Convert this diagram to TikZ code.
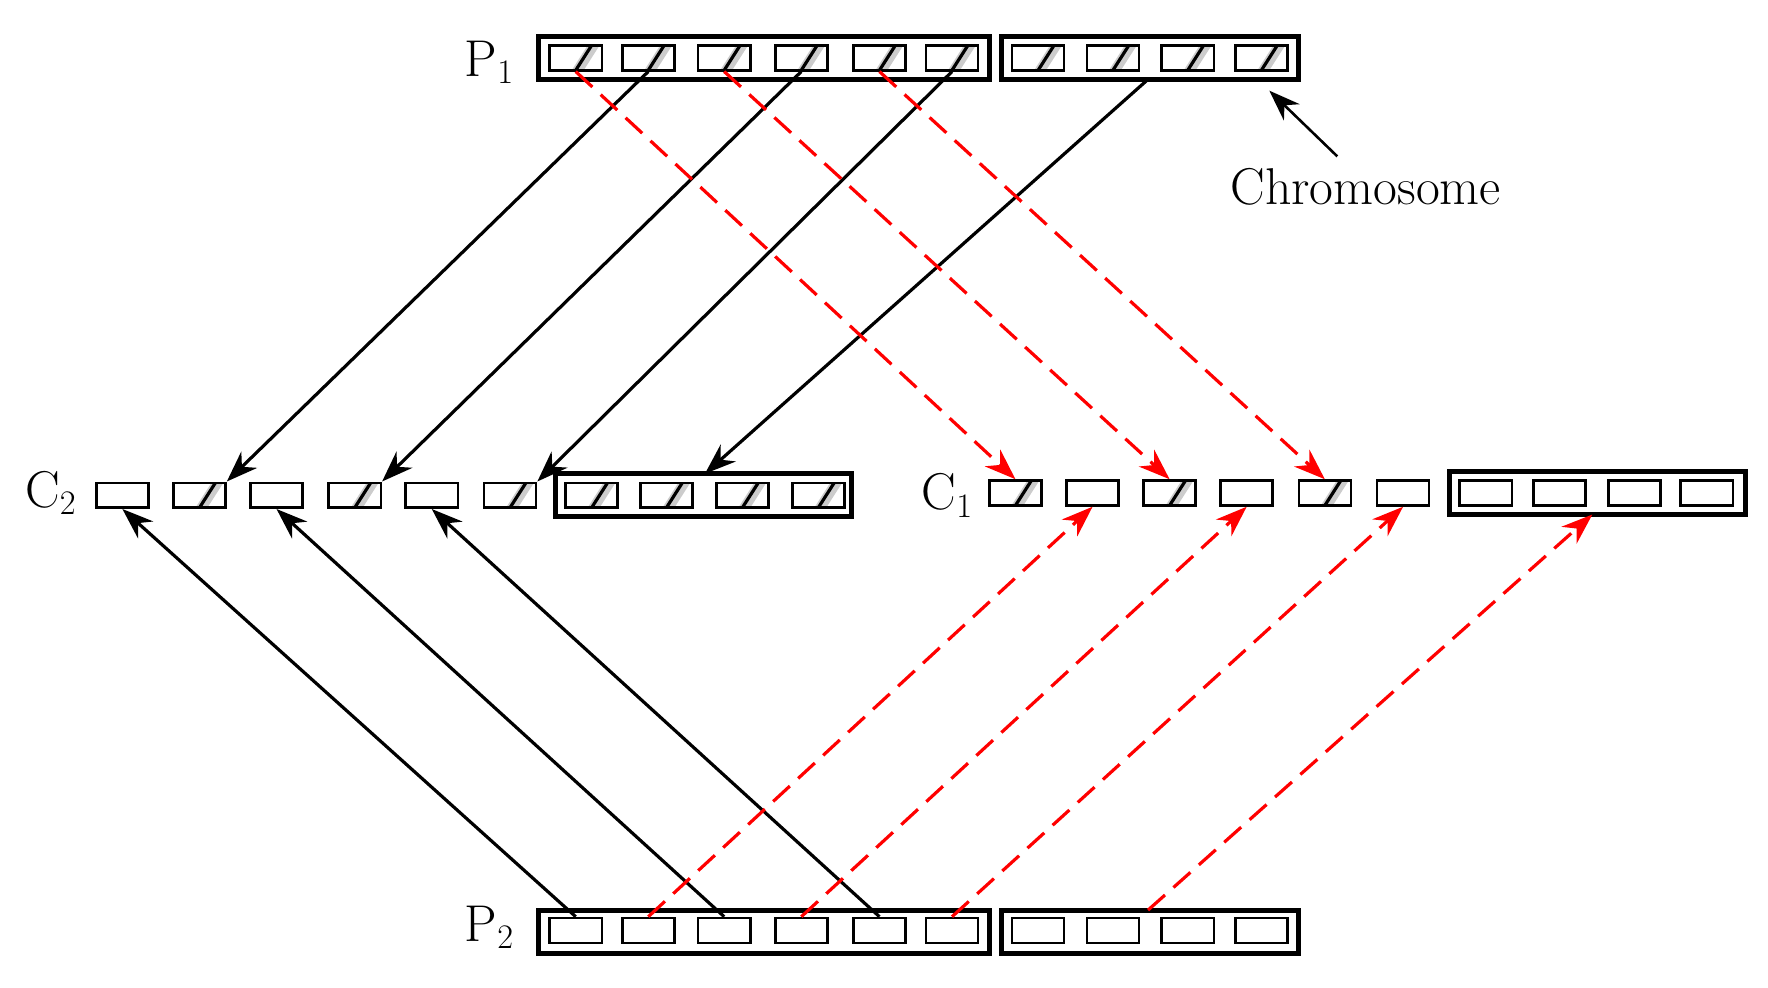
\documentclass[tikz,border=0pt]{standalone}
\usetikzlibrary{arrows.meta}
\tikzset{
  gene/.style={draw, line width=1.3pt, minimum width=0.92cm, minimum height=0.44cm, inner sep=0pt},
  hgene/.style={gene, path picture={
      \fill[gray!40] ([xshift=-2pt]path picture bounding box.south) -- ([xshift=6pt]path picture bounding box.north) -- ([xshift=12pt]path picture bounding box.north) -- ([xshift=4pt]path picture bounding box.south) -- cycle;
      \draw[line width=1.6pt] (path picture bounding box.south) -- ([xshift=8pt]path picture bounding box.north);}},
  chrom/.style={draw, line width=2.5pt},
  lbl/.style={font=\fontsize{26}{30}\selectfont},
  cross/.style={line width=1.6pt, -{Stealth[length=0.55cm,width=0.4cm]}},
  swap/.style={cross, red, dash pattern=on 0.4cm off 0.2cm}
}
\begin{document}
\begin{tikzpicture}[x=0.02cm,y=-0.02cm]
\useasboundingbox (0,0) rectangle (1560,871);

% parents
\draw[chrom] (475,32) rectangle (873,70);
\draw[chrom] (884,32) rectangle (1146,70);
\draw[chrom] (475,803) rectangle (873,841);
\draw[chrom] (884,803) rectangle (1146,841);
\coordinate (p1r) at (1013,70);
\coordinate (p2r) at (1013,803);
\node[lbl] at (432,55) {P$_1$};
\node[lbl] at (432,818) {P$_2$};
\foreach \x [count=\i] in {508,572,639,707,776,840,916,982,1048,1113}
  \node[hgene] (a\i) at (\x,51) {};
\foreach \x [count=\i] in {508,572,639,707,776,840,916,982,1048,1113}
  \node[gene] (b\i) at (\x,821) {};

% children
\node[lbl] at (45,435) {C$_2$};
\node[lbl] at (836,437) {C$_1$};
\draw[chrom] (490,418) rectangle (751,456);
\draw[chrom] (1279,416) rectangle (1540,454);
\coordinate (c2r) at (622,418);
\coordinate (c1r) at (1405,454);
\foreach \x [count=\i] in {108,176,244,313,381,450}
  \node[gene] (u\i) at (\x,437) {};
\foreach \i in {2,4,6}
  \node[hgene] at (u\i) {};
\foreach \x in {522,588,655,722}
  \node[hgene] at (\x,437) {};
\foreach \x [count=\i] in {896,964,1032,1100,1169,1238}
  \node[gene] (v\i) at (\x,435) {};
\foreach \i in {1,3,5}
  \node[hgene] at (v\i) {};
\foreach \x in {1311,1376,1442,1506}
  \node[gene] at (\x,435) {};

% chromosome label
\node[lbl] (chr) at (1205,165) {Chromosome};
\coordinate (chrtip) at (1120,80);
\draw[line width=1.3pt, -{Stealth[length=0.55cm,width=0.4cm]}] (1180,138) -- (chrtip);

% P1 to children
\draw[cross] (a2.south) -- (u2.north east);
\draw[cross] (a4.south) -- (u4.north east);
\draw[cross] (a6.south) -- (u6.north east);
\draw[cross] (p1r) -- (c2r);
\draw[swap] (a1.south) -- (v1.north);
\draw[swap] (a3.south) -- (v3.north);
\draw[swap] (a5.south) -- (v5.north);

% P2 to children
\draw[cross] (b1.north) -- (u1.south);
\draw[cross] (b3.north) -- (u3.south);
\draw[cross] (b5.north) -- (u5.south);
\draw[swap] (b2.north) -- (v2.south);
\draw[swap] (b4.north) -- (v4.south);
\draw[swap] (b6.north) -- (v6.south);
\draw[swap] (p2r) -- (c1r);
\end{tikzpicture}
\end{document}
